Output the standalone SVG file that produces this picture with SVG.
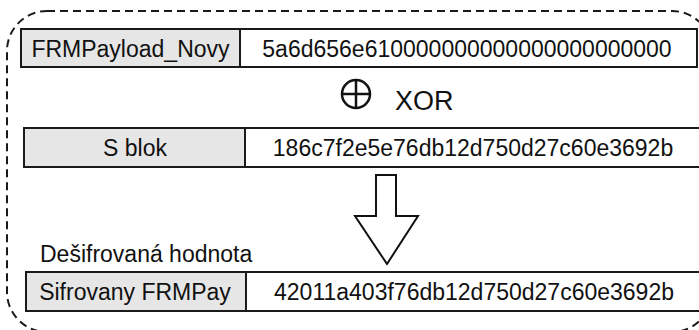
<svg xmlns="http://www.w3.org/2000/svg" width="699" height="330" viewBox="0 0 699 330">
<style>
.cell{fill:#ffffff;stroke:#1a1a1a;stroke-width:2}
.key{fill:#e6e6e6;stroke:#1a1a1a;stroke-width:2}
.t{font-family:"Liberation Sans",Arial,sans-serif;font-size:23px;fill:#111;text-anchor:middle}
.lbl{font-family:"Liberation Sans",Arial,sans-serif;font-size:23px;fill:#111}
.frame{fill:none;stroke:#1a1a1a;stroke-width:2;stroke-dasharray:8 5}
</style>
<rect id="frame" class="frame" x="7" y="11" width="705" height="321" rx="40" ry="40"/>
<g id="row-payload">
<rect class="cell" x="21" y="29" width="676" height="38"/>
<rect class="key" x="21" y="29" width="219" height="38"/>
<text class="t" x="130.5" y="57">FRMPayload_Novy</text>
<text class="t" x="467" y="57">5a6d656e610000000000000000000000</text>
</g>
<g id="xor">
<circle cx="356" cy="94" r="14" fill="none" stroke="#111" stroke-width="2.5"/>
<line x1="342" y1="94" x2="370" y2="94" stroke="#111" stroke-width="2.5"/>
<line x1="356" y1="80" x2="356" y2="108" stroke="#111" stroke-width="2.5"/>
<text class="lbl" x="395" y="110" style="font-size:27px">XOR</text>
</g>
<g id="row-sblok">
<rect class="cell" x="24" y="128" width="676" height="39"/>
<rect class="key" x="24" y="128" width="221" height="39"/>
<text class="t" x="135" y="156">S blok</text>
<text class="t" x="473" y="156">186c7f2e5e76db12d750d27c60e3692b</text>
</g>
<g id="connectors">
<path d="M376,175 H396 V216 H418 L387,264 L355,216 H376 Z" fill="#ffffff" stroke="#111" stroke-width="2" stroke-linejoin="miter"/>
</g>
<g id="label-desifrovana">
<text class="lbl" x="40" y="262">Dešifrovaná hodnota</text>
</g>
<g id="row-sifrovany">
<rect class="cell" x="26" y="272" width="674" height="39"/>
<rect class="key" x="26" y="272" width="220" height="39"/>
<text class="t" x="135" y="300">Sifrovany FRMPay</text>
<text class="t" x="474" y="300">42011a403f76db12d750d27c60e3692b</text>
</g>
</svg>
